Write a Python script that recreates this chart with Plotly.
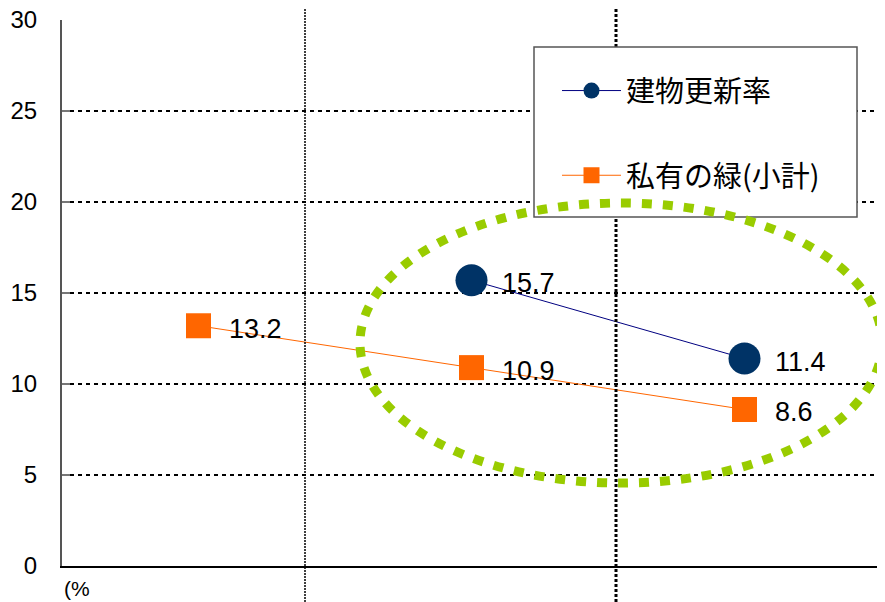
import plotly.graph_objects as go

# ---- data ----
categories = ["A", "B", "C"]
series_names = ["建物更新率", "私有の緑(小計)"]
building_renewal = [None, 15.7, 11.4]
private_green = [13.2, 10.9, 8.6]
y_ticks = [0, 5, 10, 15, 20, 25, 30]
unit_label = "(%"

FONT = "Liberation Sans, Arial, Noto Sans CJK JP, sans-serif"
CJK = "Noto Sans CJK JP, Liberation Sans, sans-serif"

# page is 885x602; browser body margin offsets the figure by 8px
OFF = 8
W, H = 885 - OFF, 602 - OFF
L, R, T, B = 62 - OFF, 4, 20 - OFF, 36
pw, ph = W - L - R, H - T - B

def px_x(p):  # page pixel -> paper x
    return (p - OFF - L) / pw

def px_y(p):  # page pixel -> paper y
    return (H - B - (p - OFF)) / ph

fig = go.Figure()
fig.add_trace(go.Scatter(
    x=categories, y=building_renewal, name=series_names[0], mode="lines+markers",
    line=dict(color="#000080", width=1),
    marker=dict(symbol="circle", size=32, color="#003366"),
    legendgroup="a", connectgaps=False,
))
fig.add_trace(go.Scatter(
    x=categories, y=private_green, name=series_names[1], mode="lines+markers",
    line=dict(color="#FF6600", width=1),
    marker=dict(symbol="square", size=25, color="#FF6600"),
    legendgroup="b",
))

annotations = []
for ser in (building_renewal, private_green):
    for i, v in enumerate(ser):
        if v is None:
            continue
        annotations.append(dict(
            x=i, y=v, xref="x", yref="y", text=f"{v:.1f}", showarrow=False,
            xanchor="left", yanchor="middle", xshift=28, yshift=-3,
            font=dict(family=FONT, size=27, color="black"),
        ))
annotations.append(dict(
    x=0, y=px_y(575), xref="paper", yref="paper", text=unit_label, showarrow=False,
    xanchor="left", yanchor="top", font=dict(family=FONT, size=21, color="black"),
))

shapes = [
    # right border of plot area
    dict(type="line", xref="paper", yref="paper", x0=1, x1=1, y0=0, y1=1,
         line=dict(color="black", width=1.5)),
    # vertical divider lines
    dict(type="line", xref="paper", yref="paper", x0=px_x(305), x1=px_x(305),
         y0=px_y(602), y1=px_y(0), line=dict(color="black", width=1.5, dash="2px,1px")),
    dict(type="line", xref="paper", yref="paper", x0=px_x(616), x1=px_x(616),
         y0=px_y(602), y1=px_y(0), line=dict(color="black", width=3, dash="3px,2px")),
    # legend frame
    dict(type="rect", xref="paper", yref="paper", x0=px_x(534), x1=px_x(857),
         y0=px_y(217), y1=px_y(47), layer="above", fillcolor="white",
         line=dict(color="#555555", width=1.5)),
    # green highlight ellipse
    dict(type="circle", xref="paper", yref="paper", x0=px_x(360), x1=px_x(882),
         y0=px_y(483), y1=px_y(203), layer="above",
         line=dict(color="#99CC00", width=9, dash="10px,11px")),
]

fig.update_layout(
    width=W, height=H,
    margin=dict(l=L, r=R, t=T, b=B, autoexpand=False),
    paper_bgcolor="white", plot_bgcolor="white",
    showlegend=True,
    legend=dict(
        x=px_x(557), y=px_y(47), xanchor="left", yanchor="top",
        bgcolor="rgba(0,0,0,0)", borderwidth=0,
        font=dict(family=CJK, size=29, color="black"),
        tracegroupgap=44, itemwidth=59,
        title=dict(text=" ", font=dict(size=14)),
    ),
    xaxis=dict(
        type="category", range=[-0.5, 2.5], showticklabels=False, ticks="",
        showgrid=False, zeroline=False, showline=True, linecolor="black", linewidth=1.5,
        automargin=False,
    ),
    yaxis=dict(
        range=[0, 30], tickvals=y_ticks, ticks="inside", ticklen=8, tickcolor="#777777",
        tickwidth=1.5, showgrid=True, gridcolor="black", gridwidth=1.5, griddash="4px,4px",
        zeroline=False, showline=True, linecolor="#555555", linewidth=2,
        tickfont=dict(family=FONT, size=24, color="black"), ticklabelstandoff=18,
        ticklabeloverflow="allow", automargin=False,
    ),
    annotations=annotations, shapes=shapes,
)

fig.write_html("out.html")
